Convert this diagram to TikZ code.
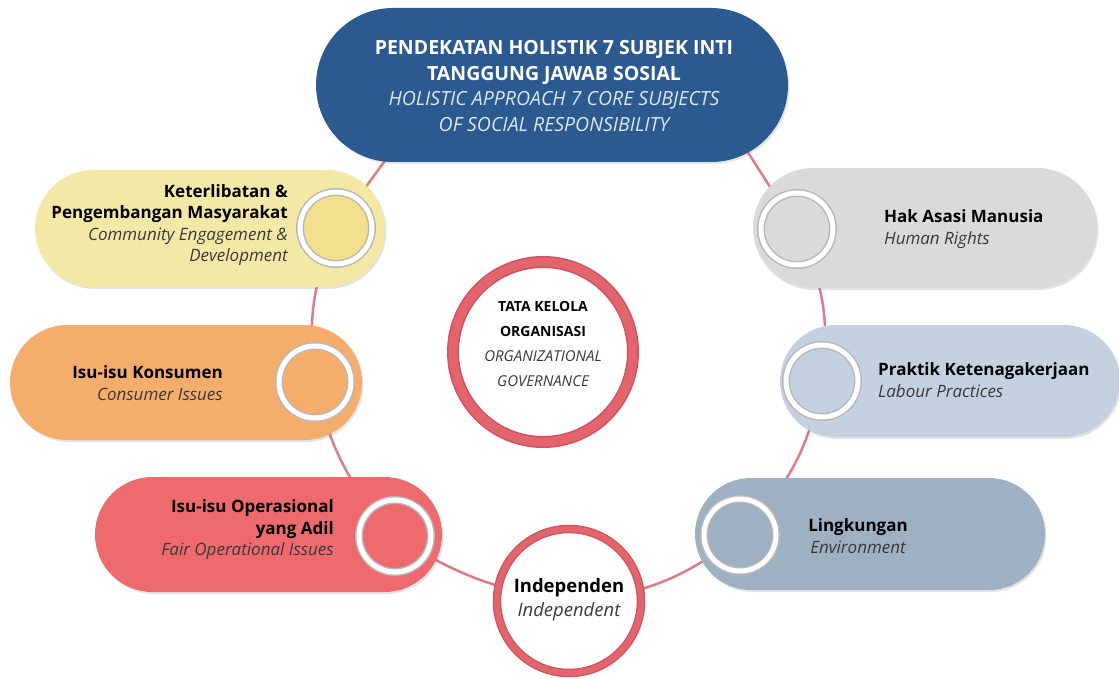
\documentclass[tikz,border=0pt]{standalone}
\usepackage{fontspec}
\setmainfont{Open Sans}
\usetikzlibrary{shapes.misc,shadows,backgrounds}
\definecolor{topblue}{HTML}{2B5A91}
\definecolor{cyellow}{HTML}{F4E8A6}
\definecolor{cyellowk}{HTML}{F3E08E}
\definecolor{cgrey}{HTML}{DADADA}
\definecolor{corange}{HTML}{F5AD6B}
\definecolor{clblue}{HTML}{C3D1E0}
\definecolor{cred}{HTML}{EE6A6D}
\definecolor{cbgrey}{HTML}{9DB1C3}
\definecolor{ringpink}{HTML}{E07A86}
\definecolor{govred}{HTML}{E2646D}
\definecolor{govdark}{HTML}{CF525C}
\definecolor{engtxt}{HTML}{3A3A3A}
\definecolor{topeng}{HTML}{DCE5F0}
\newcommand{\IDtext}[1]{{\bfseries #1}}
\newcommand{\ENtext}[1]{{\itshape\color{engtxt}#1}}
\begin{document}
\begin{tikzpicture}[x=1pt,y=1pt,
  pill/.style={rounded rectangle, inner sep=0pt, drop shadow={opacity=0.22,shadow xshift=1.5pt,shadow yshift=-2pt}},
  knob/.style={circle, inner sep=0pt, minimum size=72pt, draw=black!28, line width=8pt, postaction={draw=white, line width=5pt}, drop shadow={opacity=0.4,shadow xshift=1.5pt,shadow yshift=-2pt}},
  gov/.style={circle, inner sep=0pt, fill=white, draw=govdark, drop shadow={opacity=0.3,shadow xshift=2pt,shadow yshift=-3pt}},
  ring/.style={draw=ringpink, line width=2.5pt},
  lbl/.style={inner sep=0pt, font=\fontsize{17}{21.5}\selectfont, text=black}
]
\useasboundingbox (0,0) rectangle (1119,-679);

% pills
\node[pill, fill=topblue, minimum width=472pt, minimum height=154pt] (top) at (552,-85) {};
\node[pill, fill=cyellow, minimum width=350pt, minimum height=117pt] (kt) at (210,-228.5) {};
\node[pill, fill=cgrey, minimum width=344pt, minimum height=120pt] (ha) at (925,-228) {};
\node[pill, fill=corange, minimum width=352pt, minimum height=115pt] (kn) at (186,-382.5) {};
\node[pill, fill=clblue, minimum width=340pt, minimum height=112pt] (pr) at (950,-381) {};
\node[pill, fill=cred, minimum width=347pt, minimum height=115pt] (io) at (268.5,-534.5) {};
\node[pill, fill=cbgrey, minimum width=350pt, minimum height=112pt] (lk) at (870,-534) {};

% knobs
\node[knob, fill=cyellowk] (kc) at (336,-228) {};
\node[knob, fill=cgrey] (hc) at (797,-229) {};
\node[knob, fill=corange] (knc) at (315,-382) {};
\node[knob, fill=clblue] (prc) at (822,-381) {};
\node[knob, fill=cred] (ioc) at (395,-536) {};
\node[knob, fill=cbgrey] (lkc) at (740,-535) {};

% governance circles
\node[gov, minimum size=180pt, line width=12pt, postaction={draw=govred, line width=9pt}] (gov) at (543,-352) {};
\node[gov, minimum size=144pt, line width=8.5pt, postaction={draw=govred, line width=6pt}] (ind) at (569,-601) {};

\coordinate (tL) at (400,-140);
\coordinate (tR) at (740,-140);

% connectors
\begin{scope}[on background layer]
\draw[ring] (kc.center) -- (tL);
\draw[ring] (kc.center) to[bend right=15] (knc.center);
\draw[ring] (knc.center) to[bend right=15] (ioc.center);
\draw[ring] (ioc.center) to[bend right=12] (ind.center);
\draw[ring] (ind.center) to[bend right=17] (lkc.center);
\draw[ring] (lkc.center) to[bend right=17] (prc.center);
\draw[ring] (prc.center) to[bend right=17] (hc.center);
\draw[ring] (hc.center) -- (tR);
\end{scope}

% texts
\node[inner sep=0pt, align=center, text=white, font=\fontsize{19.5}{25.5}\selectfont] (toptext) at (554,-86)
  {\bfseries PENDEKATAN HOLISTIK 7 SUBJEK INTI\\\bfseries TANGGUNG JAWAB SOSIAL\\{\itshape\color{topeng}HOLISTIC APPROACH 7 CORE SUBJECTS}\\{\itshape\color{topeng}OF SOCIAL RESPONSIBILITY}};
\node[lbl, align=right, anchor=east] (kttext) at (288,-225)
  {\IDtext{Keterlibatan \&}\\\IDtext{Pengembangan Masyarakat}\\\ENtext{Community Engagement \&}\\\ENtext{Development}};
\node[lbl, align=left, anchor=west] (hatext) at (884,-229)
  {\IDtext{Hak Asasi Manusia}\\\ENtext{Human Rights}};
\node[lbl, align=right, anchor=east] (kntext) at (223,-383)
  {\IDtext{Isu-isu Konsumen}\\\ENtext{Consumer Issues}};
\node[lbl, align=left, anchor=west] (prtext) at (878,-380)
  {\IDtext{Praktik Ketenagakerjaan}\\\ENtext{Labour Practices}};
\node[lbl, align=right, anchor=east] (iotext) at (334,-530)
  {\IDtext{Isu-isu Operasional}\\\IDtext{yang Adil}\\\ENtext{Fair Operational Issues}};
\node[lbl, align=center] (lktext) at (858,-536)
  {\IDtext{Lingkungan}\\\ENtext{Environment}};
\node[inner sep=0pt, align=center, font=\fontsize{14}{25}\selectfont] (govtext) at (543,-344)
  {\IDtext{TATA KELOLA}\\\IDtext{ORGANISASI}\\{\fontsize{15}{25}\selectfont\ENtext{ORGANIZATIONAL}}\\{\fontsize{15}{25}\selectfont\ENtext{GOVERNANCE}}};
\node[inner sep=0pt, align=center, font=\fontsize{18.5}{24}\selectfont] (indtext) at (569,-600)
  {\IDtext{Independen}\\\ENtext{Independent}};
\end{tikzpicture}
\end{document}
